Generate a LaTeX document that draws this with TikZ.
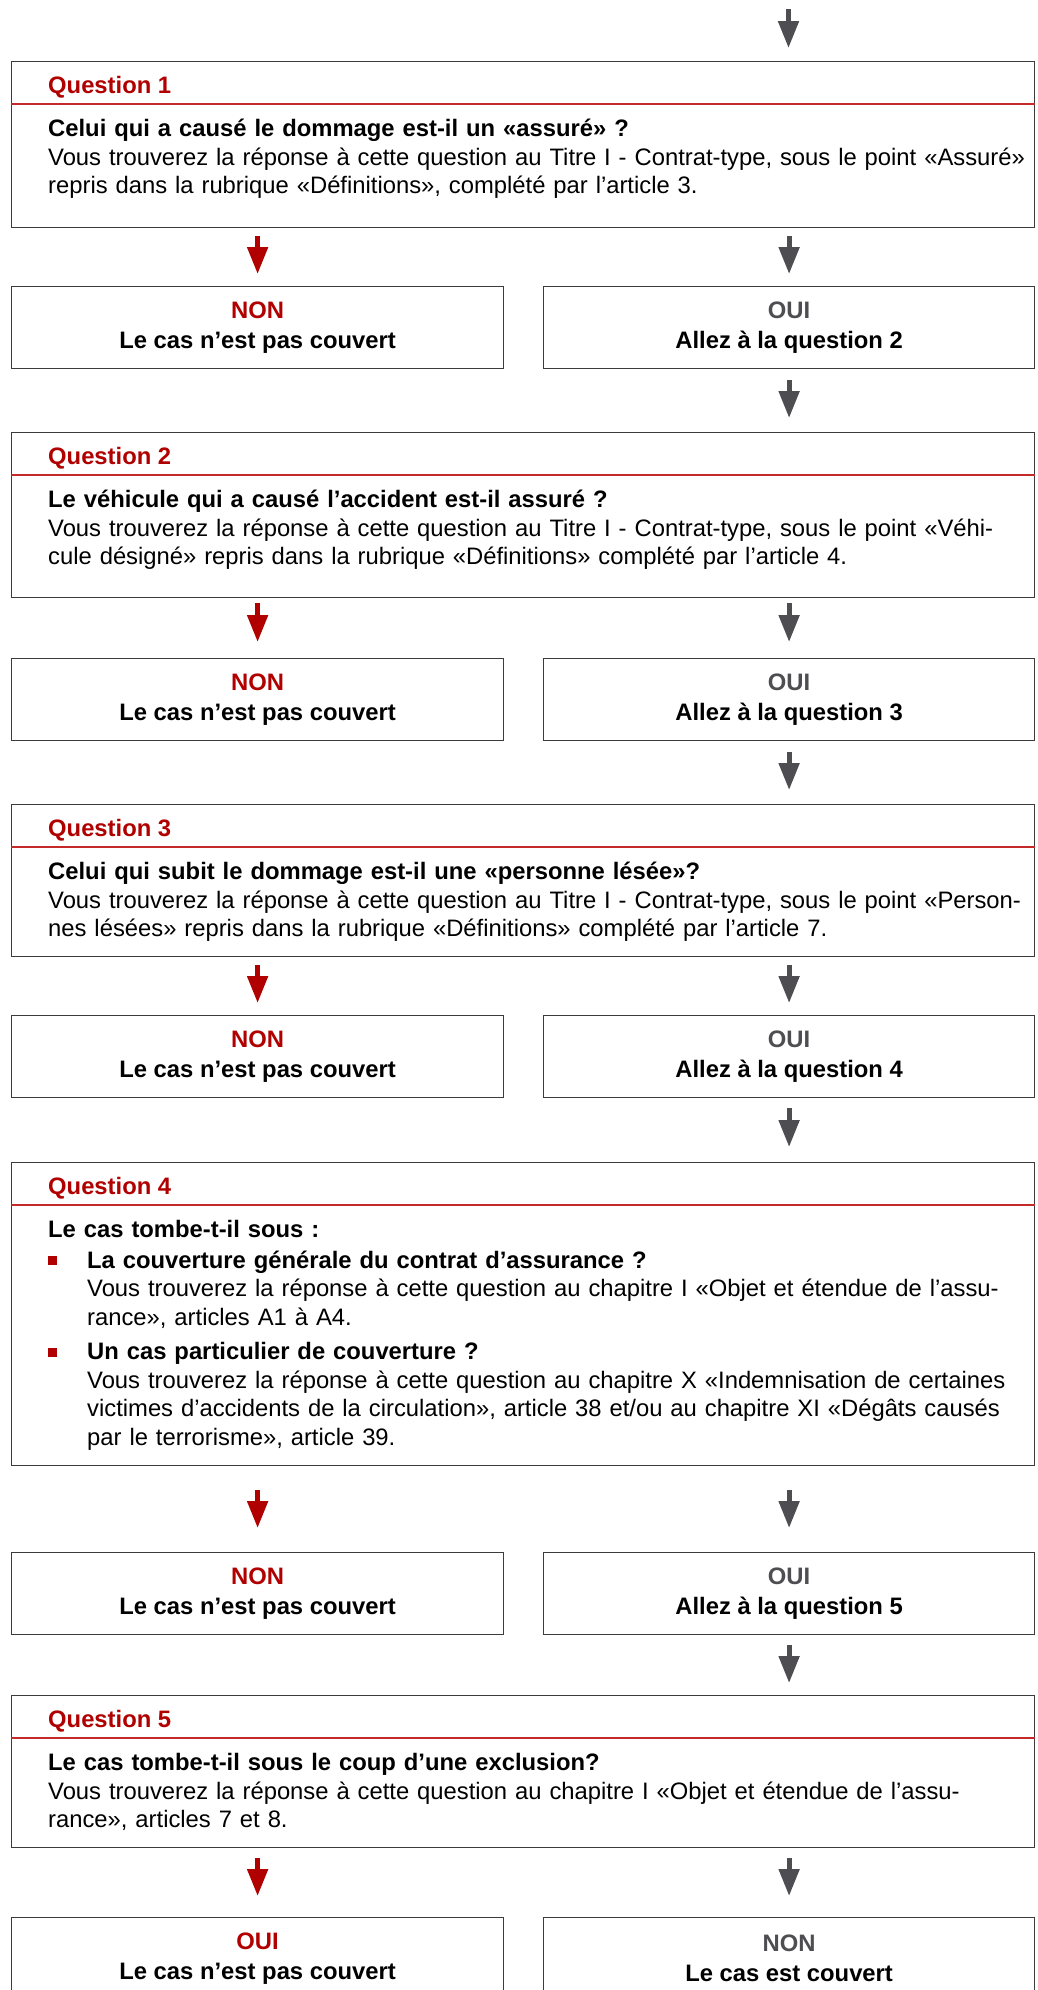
\documentclass[tikz,border=0pt]{standalone}
\usepackage{fontspec}
\setmainfont{Liberation Sans}
\usetikzlibrary{arrows.meta,positioning}

\definecolor{qred}{HTML}{B00000}
\definecolor{qline}{HTML}{C42A2A}
\definecolor{qgray}{HTML}{4D4D52}
\definecolor{qframe}{HTML}{3C3C3C}

% one justified line, one bullet, one indent
\newcommand{\jl}[2][958pt]{\makebox[#1][s]{#2}}
\newcommand{\bul}{\makebox[39pt][l]{\textcolor{qred}{\rule[3pt]{9pt}{9pt}}}}
\newcommand{\ind}{\hspace*{39pt}}

\begin{document}
\begin{tikzpicture}[x=1pt,y=-1pt,
    every node/.style={inner sep=0pt,font=\fontsize{23.8}{28.5}\selectfont},
    qbox/.style={draw=qframe,line width=1.2pt,anchor=north west,minimum width=1023pt},
    abox/.style={draw=qframe,line width=1.2pt,anchor=north west,minimum width=#1,minimum height=82pt,
      align=center,font=\fontsize{23.8}{30}\selectfont\bfseries,execute at begin node=\rule{0pt}{22pt}},
    qtitle/.style={anchor=base west,text=qred,font=\fontsize{23.8}{28.5}\selectfont\bfseries},
    qtext/.style={anchor=north west,text width=958pt,align=left},
    qrule/.style={draw=qline,line width=1.3pt},
    flowred/.style={draw=qred,line width=5pt,-{Triangle[width=20pt,length=27pt]}},
    flowgray/.style={draw=qgray,line width=5pt,-{Triangle[width=20pt,length=27pt]}}]

    \useasboundingbox (0,0) rectangle (1037,1990);

    % question boxes
    \node[qbox,minimum height=166pt] (q1) at (11,61) {};
    \node[qbox,minimum height=165pt] (q2) at (11,432) {};
    \node[qbox,minimum height=152pt] (q3) at (11,804) {};
    \node[qbox,minimum height=303pt] (q4) at (11,1162) {};
    \node[qbox,minimum height=152pt] (q5) at (11,1695) {};

    \foreach \q in {1,...,5}{
      \draw[qrule] ([yshift=-43pt]q\q.north west) -- ([yshift=-43pt]q\q.north east);
      \node[qtitle] (t\q) at ([xshift=37pt,yshift=-32pt]q\q.north west) {Question \q};
    }

    \node[qtext] (b1) at ([xshift=37pt,yshift=-55.5pt]q1.north west) {\strut\textbf{Celui qui a causé le dommage est-il un «assuré» ?}\\
      \jl{Vous trouverez la réponse à cette question au Titre I - Contrat-type, sous le point «Assuré»}\\
      repris dans la rubrique «Définitions», complété par l’article 3.};
    \node[qtext] (b2) at ([xshift=37pt,yshift=-55.5pt]q2.north west) {\strut\textbf{Le véhicule qui a causé l’accident est-il assuré ?}\\
      \jl{Vous trouverez la réponse à cette question au Titre I - Contrat-type, sous le point «Véhi-}\\
      cule désigné» repris dans la rubrique «Définitions» complété par l’article 4.};
    \node[qtext] (b3) at ([xshift=37pt,yshift=-55.5pt]q3.north west) {\strut\textbf{Celui qui subit le dommage est-il une «personne lésée»?}\\
      \jl{Vous trouverez la réponse à cette question au Titre I - Contrat-type, sous le point «Person-}\\
      nes lésées» repris dans la rubrique «Définitions» complété par l’article 7.};
    \node[qtext] (b4) at ([xshift=37pt,yshift=-55.5pt]q4.north west) {\strut\textbf{Le cas tombe-t-il sous :}\\[2pt]
      \bul\textbf{La couverture générale du contrat d’assurance ?}\\
      \ind\jl[919pt]{Vous trouverez la réponse à cette question au chapitre I «Objet et étendue de l’assu-}\\
      \ind rance», articles A1 à A4.\\[6pt]
      \bul\textbf{Un cas particulier de couverture ?}\\
      \ind\jl[919pt]{Vous trouverez la réponse à cette question au chapitre X «Indemnisation de certaines}\\
      \ind\jl[919pt]{victimes d’accidents de la circulation», article 38 et/ou au chapitre XI «Dégâts causés}\\
      \ind par le terrorisme», article 39.};
    \node[qtext] (b5) at ([xshift=37pt,yshift=-55.5pt]q5.north west) {\strut\textbf{Le cas tombe-t-il sous le coup d’une exclusion?}\\
      \jl{Vous trouverez la réponse à cette question au chapitre I «Objet et étendue de l’assu-}\\
      rance», articles 7 et 8.};

    % answer boxes
    \node[abox=492pt] (l1) at (11,286) {\textcolor{qred}{NON}\\Le cas n’est pas couvert};
    \node[abox=491pt] (r1) at (543,286) {\textcolor{qgray}{OUI}\\Allez à la question 2};
    \node[abox=492pt] (l2) at (11,658) {\textcolor{qred}{NON}\\Le cas n’est pas couvert};
    \node[abox=491pt] (r2) at (543,658) {\textcolor{qgray}{OUI}\\Allez à la question 3};
    \node[abox=492pt] (l3) at (11,1015) {\textcolor{qred}{NON}\\Le cas n’est pas couvert};
    \node[abox=491pt] (r3) at (543,1015) {\textcolor{qgray}{OUI}\\Allez à la question 4};
    \node[abox=492pt] (l4) at (11,1552) {\textcolor{qred}{NON}\\Le cas n’est pas couvert};
    \node[abox=491pt] (r4) at (543,1552) {\textcolor{qgray}{OUI}\\Allez à la question 5};
    \node[abox=492pt] (l5) at (11,1917) {\textcolor{qred}{OUI}\\Le cas n’est pas couvert};
    \node[abox=491pt] (r5) at (543,1917) {\textcolor{qgray}{NON}\\Le cas est couvert};

    % arrows
    \coordinate (in) at (788.5,9);
    \draw[flowgray,shorten >=13pt] (in) -- (in |- q1.north);

    \draw[flowred,shorten <=8pt,shorten >=12pt] (q1.south -| l1.north) -- (l1.north);
    \draw[flowgray,shorten <=8pt,shorten >=12pt] (q1.south -| r1.north) -- (r1.north);
    \draw[flowgray,shorten <=11pt,shorten >=14pt] (r1.south) -- (r1.south |- q2.north);

    \draw[flowred,shorten <=5pt,shorten >=16pt] (q2.south -| l2.north) -- (l2.north);
    \draw[flowgray,shorten <=5pt,shorten >=16pt] (q2.south -| r2.north) -- (r2.north);
    \draw[flowgray,shorten <=11pt,shorten >=14pt] (r2.south) -- (r2.south |- q3.north);

    \draw[flowred,shorten <=8pt,shorten >=12pt] (q3.south -| l3.north) -- (l3.north);
    \draw[flowgray,shorten <=8pt,shorten >=12pt] (q3.south -| r3.north) -- (r3.north);
    \draw[flowgray,shorten <=10pt,shorten >=15pt] (r3.south) -- (r3.south |- q4.north);

    \draw[flowred,shorten <=24pt,shorten >=24pt] (q4.south -| l4.north) -- (l4.north);
    \draw[flowgray,shorten <=24pt,shorten >=24pt] (q4.south -| r4.north) -- (r4.north);
    \draw[flowgray,shorten <=10pt,shorten >=12pt] (r4.south) -- (r4.south |- q5.north);

    \draw[flowred,shorten <=10pt,shorten >=21pt] (q5.south -| l5.north) -- (l5.north);
    \draw[flowgray,shorten <=10pt,shorten >=21pt] (q5.south -| r5.north) -- (r5.north);
\end{tikzpicture}
\end{document}
